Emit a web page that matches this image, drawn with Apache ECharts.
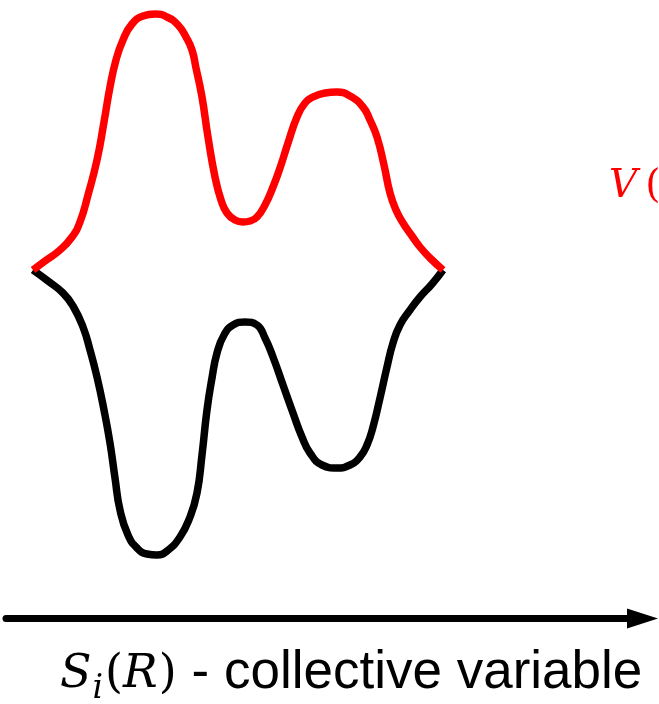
<!DOCTYPE html>
<html>
<head>
<meta charset="utf-8">
<script src="https://cdn.jsdelivr.net/npm/echarts@6/dist/echarts.min.js"></script>
<style>
  html, body { margin: 0; padding: 0; background: #fff; }
  #chart { width: 659px; height: 704px; }
</style>
</head>
<body>
<div id="chart"></div>
<script>
// Collective variable S (arbitrary units) and potential values (arbitrary units)
const redS   = [0, 12, 27, 39, 47, 55, 64, 71, 77, 83, 90, 99, 110, 122, 134, 145, 153, 159, 163, 169, 175, 182, 188, 194, 202, 210, 217, 224, 232, 240, 247, 255, 264, 272, 280, 292, 304, 317, 330, 337, 344, 351, 357, 363, 370, 379, 387, 397, 410];
const redV   = [0, 9, 20, 33, 48, 75, 110, 148, 183, 210, 230, 246, 254, 256, 253, 245, 233, 220, 202, 173, 133, 93, 70, 57, 50, 48, 49, 53, 65, 83, 102, 127, 153, 167, 173, 177, 178, 174, 163, 150, 133, 105, 77, 60, 47, 34, 23, 12, 0];
const blackS = [0, 15, 30, 40, 50, 57, 64, 71, 77, 82, 87, 95, 104, 114, 124, 134, 147, 157, 164, 169, 174, 179, 184, 191, 200, 212, 224, 232, 240, 250, 260, 269, 277, 289, 304, 317, 327, 334, 340, 347, 354, 360, 367, 377, 387, 399, 410];
const blackV = [0, -11, -23, -36, -57, -80, -107, -140, -173, -208, -240, -265, -278, -284, -285, -281, -267, -247, -223, -185, -140, -108, -83, -65, -55, -52, -55, -68, -87, -115, -143, -167, -183, -195, -198, -195, -187, -175, -157, -128, -97, -73, -55, -40, -27, -14, 0];

const axisLabelParts = ['S', 'i', '(', 'R', ')', '- collective variable'];
const biasLabelParts = ['V', '('];

const pairs = (xs, ys) => xs.map((x, i) => [x, ys[i]]);

const chart = echarts.init(document.getElementById('chart'), null, { renderer: 'canvas' });

const mathFont = 'DejaVu Serif';
const sansFont = 'Liberation Sans';

chart.setOption({
  animation: false,
  backgroundColor: '#ffffff',
  title: [
    {
      left: 55, top: 642,
      text: '{m|' + axisLabelParts[0] + '}{sub|' + axisLabelParts[1] + '}{p|' + axisLabelParts[2] + '}{m|' + axisLabelParts[3] + '}{p|' + axisLabelParts[4] + '}{t|' + axisLabelParts[5] + '}',
      textStyle: {
        fontWeight: 'normal',
        rich: {
          m:   { fontFamily: mathFont, fontStyle: 'italic', fontWeight: 'normal', fontSize: 46, color: '#000', verticalAlign: 'bottom', padding: [0, 1, 8, 0] },
          sub: { fontFamily: mathFont, fontStyle: 'italic', fontWeight: 'normal', fontSize: 33, color: '#000', verticalAlign: 'bottom', padding: [0, 2, 0, 0] },
          p:   { fontFamily: mathFont, fontWeight: 'normal', fontSize: 46, color: '#000', verticalAlign: 'bottom', padding: [0, 0, 8, 0] },
          t:   { fontFamily: sansFont, fontWeight: 'normal', fontSize: 53, color: '#000', verticalAlign: 'bottom', padding: [0, 0, 6, 15] }
        }
      }
    },
    {
      left: 604, top: 162,
      text: '{v|' + biasLabelParts[0] + '}{p|' + biasLabelParts[1] + '}',
      textStyle: {
        fontWeight: 'normal',
        rich: {
          v: { fontFamily: mathFont, fontStyle: 'italic', fontWeight: 'normal', fontSize: 39, color: '#ff0000', padding: [0, 8, 0, 0] },
          p: { fontFamily: mathFont, fontWeight: 'normal', fontSize: 39, color: '#ff0000' }
        }
      }
    }
  ],
  grid: [
    { left: 33, width: 410, top: 15, height: 561 },
    { left: 6, width: 636.5, top: 500, height: 118.5 }
  ],
  xAxis: [
    { gridIndex: 0, type: 'value', min: 0, max: 410, show: false },
    {
      gridIndex: 1, type: 'value', min: 0, max: 1,
      axisLine: { show: true, symbol: ['none', 'triangle'], symbolSize: [20, 31], lineStyle: { color: '#000', width: 7 } },
      axisTick: { show: false }, axisLabel: { show: false }, splitLine: { show: false }
    }
  ],
  yAxis: [
    { gridIndex: 0, type: 'value', min: -306, max: 255, show: false },
    { gridIndex: 1, type: 'value', min: 0, max: 1, show: false }
  ],
  series: [
    {
      type: 'line', xAxisIndex: 0, yAxisIndex: 0, data: pairs(blackS, blackV),
      smooth: 0.5, showSymbol: false, clip: false, z: 2,
      lineStyle: { color: '#000000', width: 7.5 }
    },
    {
      type: 'line', xAxisIndex: 0, yAxisIndex: 0, data: pairs(redS, redV),
      smooth: 0.5, showSymbol: false, clip: false, z: 3,
      lineStyle: { color: '#ff0000', width: 7.5 }
    }
  ]
});
</script>
</body>
</html>
